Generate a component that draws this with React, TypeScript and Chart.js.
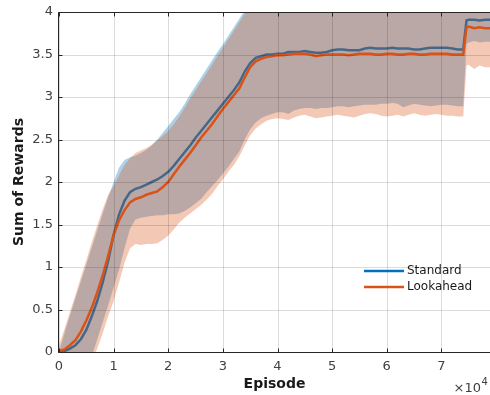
import { useEffect, useRef } from 'react';
import { Chart, registerables } from 'chart.js';

Chart.register(...registerables);

const episodes = [
  0, 1000, 2000, 3000, 4000, 5000, 6000, 7000, 8000, 9000,
  10000, 11000, 12000, 13000, 14000, 15000, 16000, 17000, 18000, 19000,
  20000, 21000, 22000, 23000, 24000, 25000, 26000, 27000, 28000, 29000,
  30000, 31000, 32000, 33000, 34000, 35000, 36000, 37000, 38000, 39000,
  40000, 41000, 42000, 43000, 44000, 45000, 46000, 47000, 48000, 49000,
  50000, 51000, 52000, 53000, 54000, 55000, 56000, 57000, 58000, 59000,
  60000, 61000, 62000, 63000, 64000, 65000, 66000, 67000, 68000, 69000,
  70000, 71000, 72000, 73000, 74000, 74600, 75000, 76000, 77000, 78000, 79000,
];

const standardMean = [
  0.00, 0.01, 0.04, 0.08, 0.15, 0.26, 0.42, 0.60, 0.82, 1.07,
  1.38, 1.62, 1.78, 1.88, 1.92, 1.94, 1.97, 2.00, 2.03, 2.07,
  2.12, 2.19, 2.27, 2.35, 2.43, 2.52, 2.60, 2.68, 2.76, 2.84,
  2.92, 3.00, 3.08, 3.17, 3.30, 3.40, 3.46, 3.48, 3.50, 3.50,
  3.51, 3.51, 3.53, 3.53, 3.53, 3.54, 3.53, 3.52, 3.52, 3.53,
  3.55, 3.56, 3.56, 3.55, 3.55, 3.55, 3.57, 3.58, 3.57, 3.57,
  3.57, 3.58, 3.57, 3.57, 3.57, 3.56, 3.56, 3.57, 3.58, 3.58,
  3.58, 3.58, 3.57, 3.56, 3.56, 3.90, 3.91, 3.91, 3.90, 3.91, 3.91,
];

const standardUpper = [
  0.00, 0.22, 0.43, 0.63, 0.83, 1.03, 1.23, 1.43, 1.63, 1.82,
  2.00, 2.17, 2.26, 2.29, 2.31, 2.34, 2.38, 2.43, 2.50, 2.58,
  2.66, 2.74, 2.82, 2.92, 3.03, 3.13, 3.23, 3.33, 3.43, 3.53,
  3.62, 3.72, 3.82, 3.92, 4.02, 4.12, 4.20, 4.25, 4.30, 4.30,
  4.30, 4.30, 4.30, 4.30, 4.30, 4.30, 4.30, 4.30, 4.30, 4.30,
  4.30, 4.30, 4.30, 4.30, 4.30, 4.30, 4.30, 4.30, 4.30, 4.30,
  4.30, 4.30, 4.30, 4.30, 4.30, 4.30, 4.30, 4.30, 4.30, 4.30,
  4.30, 4.30, 4.30, 4.30, 4.30, 4.30, 4.30, 4.30, 4.30, 4.30, 4.30,
];

const standardLower = [
  -1.30, -1.10, -0.90, -0.70, -0.50, -0.28, -0.05, 0.15, 0.35, 0.55,
  0.76, 0.97, 1.22, 1.45, 1.56, 1.58, 1.59, 1.60, 1.61, 1.61,
  1.62, 1.62, 1.63, 1.66, 1.70, 1.75, 1.80, 1.88, 1.95, 2.02,
  2.10, 2.18, 2.27, 2.36, 2.50, 2.62, 2.70, 2.75, 2.78, 2.80,
  2.82, 2.82, 2.80, 2.84, 2.86, 2.87, 2.87, 2.86, 2.87, 2.87,
  2.88, 2.89, 2.89, 2.88, 2.89, 2.90, 2.91, 2.91, 2.91, 2.92,
  2.92, 2.93, 2.92, 2.88, 2.90, 2.92, 2.91, 2.90, 2.89, 2.90,
  2.91, 2.91, 2.90, 2.89, 2.89, 3.62, 3.64, 3.66, 3.64, 3.65, 3.65,
];

const lookaheadMean = [
  0.01, 0.03, 0.08, 0.14, 0.24, 0.37, 0.52, 0.70, 0.90, 1.13,
  1.38, 1.55, 1.67, 1.76, 1.80, 1.82, 1.85, 1.87, 1.89, 1.94,
  2.00, 2.09, 2.18, 2.26, 2.34, 2.43, 2.52, 2.60, 2.68, 2.77,
  2.86, 2.94, 3.02, 3.10, 3.23, 3.35, 3.42, 3.45, 3.47, 3.48,
  3.49, 3.49, 3.50, 3.51, 3.51, 3.51, 3.50, 3.48, 3.49, 3.50,
  3.50, 3.50, 3.50, 3.49, 3.50, 3.51, 3.51, 3.51, 3.50, 3.50,
  3.51, 3.51, 3.50, 3.50, 3.51, 3.51, 3.50, 3.50, 3.51, 3.51,
  3.51, 3.51, 3.50, 3.50, 3.50, 3.82, 3.83, 3.81, 3.82, 3.81, 3.81,
];

const lookaheadUpper = [
  0.08, 0.27, 0.47, 0.67, 0.88, 1.08, 1.29, 1.49, 1.68, 1.85,
  1.95, 2.08, 2.20, 2.28, 2.34, 2.37, 2.40, 2.44, 2.49, 2.54,
  2.60, 2.68, 2.77, 2.87, 2.98, 3.08, 3.18, 3.28, 3.38, 3.48,
  3.58, 3.68, 3.78, 3.88, 3.98, 4.10, 4.20, 4.25, 4.25, 4.25,
  4.25, 4.25, 4.25, 4.25, 4.25, 4.25, 4.25, 4.25, 4.25, 4.25,
  4.25, 4.25, 4.25, 4.25, 4.25, 4.25, 4.25, 4.25, 4.25, 4.25,
  4.25, 4.25, 4.25, 4.25, 4.25, 4.25, 4.25, 4.25, 4.25, 4.25,
  4.25, 4.25, 4.25, 4.25, 4.25, 4.25, 4.25, 4.25, 4.25, 4.25, 4.25,
];

const lookaheadLower = [
  -1.20, -1.00, -0.85, -0.65, -0.48, -0.30, -0.12, 0.04, 0.22, 0.42,
  0.60, 0.82, 1.05, 1.22, 1.27, 1.26, 1.27, 1.27, 1.28, 1.32,
  1.37, 1.44, 1.52, 1.58, 1.63, 1.68, 1.73, 1.79, 1.86, 1.95,
  2.03, 2.12, 2.20, 2.30, 2.43, 2.55, 2.63, 2.68, 2.72, 2.74,
  2.75, 2.74, 2.73, 2.76, 2.78, 2.79, 2.77, 2.75, 2.76, 2.77,
  2.78, 2.79, 2.78, 2.77, 2.76, 2.78, 2.80, 2.81, 2.80, 2.78,
  2.77, 2.78, 2.79, 2.77, 2.79, 2.81, 2.79, 2.78, 2.79, 2.80,
  2.79, 2.78, 2.78, 2.77, 2.77, 3.37, 3.38, 3.33, 3.37, 3.35, 3.35,
];

const xTickValues = [0, 10000, 20000, 30000, 40000, 50000, 60000, 70000];
const xTickLabels = ['0', '1', '2', '3', '4', '5', '6', '7'];
const yTickValues = [0, 0.5, 1, 1.5, 2, 2.5, 3, 3.5, 4];
const yTickLabels = ['0', '0.5', '1', '1.5', '2', '2.5', '3', '3.5', '4'];

const seriesNames = ['Standard', 'Lookahead'];
const seriesColors = ['#0072BD', '#D95319'];
const bandColors = ['rgba(0,114,189,0.33)', 'rgba(217,83,25,0.32)'];

const xTitle = 'Episode';
const yTitle = 'Sum of Rewards';
const xExponent = '4';

const FONT = '"DejaVu Sans", sans-serif';

const pts = (arr: number[]) => episodes.map((x, i) => ({ x, y: arr[i] }));

const decorPlugin = {
  id: 'matlabDecor',
  afterDatasetsDraw(chart: any) {
    const ctx = chart.ctx;
    const a = chart.chartArea;
    const xs = chart.scales.x;
    const ys = chart.scales.y;
    ctx.save();
    // grid lines (over patches, like MATLAB)
    ctx.strokeStyle = 'rgba(0,0,0,0.14)';
    ctx.lineWidth = 1;
    ctx.beginPath();
    for (const v of xTickValues) {
      const px = Math.round(xs.getPixelForValue(v)) + 0.5;
      ctx.moveTo(px, a.top);
      ctx.lineTo(px, a.bottom);
    }
    for (const v of yTickValues) {
      const py = Math.round(ys.getPixelForValue(v)) + 0.5;
      ctx.moveTo(a.left, py);
      ctx.lineTo(a.right, py);
    }
    ctx.stroke();
    // axes box
    ctx.strokeStyle = '#262626';
    ctx.lineWidth = 1;
    const L = Math.round(a.left) - 0.5;
    const B = Math.round(a.bottom) + 0.5;
    const T = Math.round(a.top) + 0.5;
    ctx.beginPath();
    ctx.moveTo(L, T);
    ctx.lineTo(a.right, T);
    ctx.moveTo(L, T);
    ctx.lineTo(L, B);
    ctx.lineTo(a.right, B);
    ctx.stroke();
    // inward tick marks
    ctx.beginPath();
    for (const v of xTickValues) {
      const px = Math.round(xs.getPixelForValue(v)) + 0.5;
      ctx.moveTo(px, B);
      ctx.lineTo(px, B - 4);
      ctx.moveTo(px, T);
      ctx.lineTo(px, T + 4);
    }
    for (const v of yTickValues) {
      const py = Math.round(ys.getPixelForValue(v)) + 0.5;
      ctx.moveTo(L, py);
      ctx.lineTo(L + 4, py);
    }
    ctx.stroke();
    ctx.restore();
  },
  afterDraw(chart: any) {
    const ctx = chart.ctx;
    const a = chart.chartArea;
    const xs = chart.scales.x;
    const ys = chart.scales.y;
    ctx.save();
    // tick labels
    ctx.fillStyle = '#404040';
    ctx.font = `13px ${FONT}`;
    ctx.textBaseline = 'middle';
    ctx.textAlign = 'center';
    xTickValues.forEach((v, i) => {
      ctx.fillText(xTickLabels[i], xs.getPixelForValue(v), 367);
    });
    ctx.textAlign = 'right';
    yTickValues.forEach((v, i) => {
      ctx.fillText(yTickLabels[i], 53, ys.getPixelForValue(v));
    });
    // legend
    const legX = 364;
    const legY = [271, 287];
    seriesNames.forEach((name, i) => {
      ctx.strokeStyle = seriesColors[i];
      ctx.lineWidth = 2.5;
      ctx.beginPath();
      ctx.moveTo(legX, legY[i]);
      ctx.lineTo(legX + 40, legY[i]);
      ctx.stroke();
      ctx.fillStyle = '#1a1a1a';
      ctx.font = `12px ${FONT}`;
      ctx.textAlign = 'left';
      ctx.textBaseline = 'middle';
      ctx.fillText(name, legX + 43, legY[i]);
    });
    // axis titles
    ctx.fillStyle = '#1a1a1a';
    ctx.font = `bold 14px ${FONT}`;
    ctx.textAlign = 'center';
    ctx.textBaseline = 'middle';
    ctx.fillText(xTitle, (a.left + a.right) / 2, 384);
    ctx.save();
    ctx.translate(19, (a.top + a.bottom) / 2);
    ctx.rotate(-Math.PI / 2);
    ctx.fillText(yTitle, 0, 0);
    ctx.restore();
    // exponent label
    ctx.fillStyle = '#404040';
    ctx.textBaseline = 'alphabetic';
    ctx.textAlign = 'right';
    ctx.font = `13px ${FONT}`;
    ctx.fillText('\u00d710', 481, 392);
    ctx.textAlign = 'left';
    ctx.font = `10px ${FONT}`;
    ctx.fillText(xExponent, 481.5, 385);
    ctx.restore();
  },
};

export default function App() {
  const ref = useRef<HTMLCanvasElement>(null);
  useEffect(() => {
    const canvas = ref.current;
    if (!canvas) return;
    const chart = new Chart(canvas, {
      type: 'line',
      data: {
        datasets: [
          { label: 'stdLower', data: pts(standardLower), borderWidth: 0, pointRadius: 0, fill: false, order: 6 },
          {
            label: 'stdUpper',
            data: pts(standardUpper),
            borderWidth: 0,
            pointRadius: 0,
            backgroundColor: bandColors[0],
            fill: '-1',
            order: 5,
          },
          {
            label: seriesNames[0],
            data: pts(standardMean),
            borderColor: seriesColors[0],
            borderWidth: 2.5,
            pointRadius: 0,
            fill: false,
            order: 4,
          },
          { label: 'laLower', data: pts(lookaheadLower), borderWidth: 0, pointRadius: 0, fill: false, order: 3 },
          {
            label: 'laUpper',
            data: pts(lookaheadUpper),
            borderWidth: 0,
            pointRadius: 0,
            backgroundColor: bandColors[1],
            fill: '-1',
            order: 2,
          },
          {
            label: seriesNames[1],
            data: pts(lookaheadMean),
            borderColor: seriesColors[1],
            borderWidth: 2.5,
            pointRadius: 0,
            fill: false,
            order: 1,
          },
        ],
      },
      options: {
        animation: false,
        responsive: false,
        devicePixelRatio: 1,
        layout: { padding: { top: 12, right: 0, left: 0, bottom: 0 } },
        plugins: {
          legend: { display: false },
          tooltip: { enabled: false },
          filler: { drawTime: 'beforeDatasetDraw' },
        },
        elements: { line: { tension: 0 } },
        scales: {
          x: {
            type: 'linear',
            min: 0,
            max: 78900,
            grid: { display: false },
            border: { display: false },
            ticks: { display: false },
            afterFit: (s: any) => {
              s.height = 43;
            },
          },
          y: {
            min: 0,
            max: 4,
            grid: { display: false },
            border: { display: false },
            ticks: { display: false },
            afterFit: (s: any) => {
              s.width = 59;
            },
          },
        },
      },
      plugins: [decorPlugin],
    } as any);
    return () => chart.destroy();
  }, []);
  return (
    <div style={{ position: 'fixed', left: 0, top: 0, width: 490, height: 395, background: '#fff' }}>
      <canvas ref={ref} width={490} height={395} style={{ display: 'block', width: 490, height: 395 }} />
    </div>
  );
}
